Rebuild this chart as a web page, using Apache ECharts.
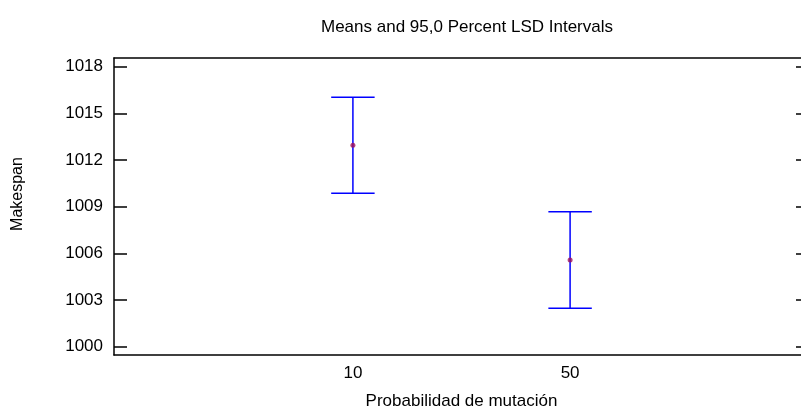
<!DOCTYPE html>
<html>
<head>
<meta charset="utf-8">
<script src="https://cdn.jsdelivr.net/npm/echarts@6/dist/echarts.min.js"></script>
<style>
  html, body { margin: 0; padding: 0; background: #fff; overflow: hidden; }
  /* the plot frame runs a few pixels past the right edge of the window */
  #chart { width: 810px; height: 415px; }
</style>
</head>
<body>
<div id="chart"></div>
<script>
// Factor levels and their means with 95% LSD interval bounds
const categories = ['10', '50'];
const means = [1012.95, 1005.57];
const lower = [1009.87, 1002.47];
const upper = [1016.03, 1008.67];
const yTicks = [1000, 1003, 1006, 1009, 1012, 1015, 1018];

const FONT = 'Liberation Sans, Arial, sans-serif';
const xPos = categories.map((c, i) => i + 1);

const intervalData = categories.map((c, i) => [xPos[i], lower[i], upper[i]]);
const meanData = categories.map((c, i) => [xPos[i], means[i]]);

const chart = echarts.init(document.getElementById('chart'), null, { renderer: 'canvas' });

chart.setOption({
  animation: false,
  backgroundColor: '#ffffff',
  title: {
    text: 'Means and 95,0 Percent LSD Intervals',
    left: 462,
    textAlign: 'center',
    top: 14,
    textStyle: { fontFamily: FONT, fontSize: 17, fontWeight: 'normal', color: '#000' }
  },
  graphic: [{
    type: 'text',
    x: 18,
    y: 194,
    rotation: Math.PI / 2,
    style: {
      text: 'Makespan',
      font: '16px ' + FONT,
      fill: '#000',
      textAlign: 'center',
      textVerticalAlign: 'middle'
    }
  }],
  grid: { left: 114, top: 58, right: 1, bottom: 59.5, containLabel: false },
  xAxis: [{
    type: 'value',
    min: -0.1,
    max: 3.1,
    position: 'bottom',
    name: 'Probabilidad de mutación',
    nameLocation: 'middle',
    nameGap: 38,
    nameTextStyle: { fontFamily: FONT, fontSize: 17, color: '#000' },
    axisLine: { show: true, onZero: false, lineStyle: { color: '#000', width: 1.5 } },
    axisTick: { show: false },
    axisLabel: {
      customValues: xPos,
      margin: 10,
      fontFamily: FONT, fontSize: 17, color: '#000',
      formatter: v => categories[Math.round(v) - 1] || ''
    },
    splitLine: { show: false }
  }, {
    type: 'value',
    min: -0.1,
    max: 3.1,
    position: 'top',
    axisLine: { show: true, onZero: false, lineStyle: { color: '#000', width: 1.5 } },
    axisTick: { show: false },
    axisLabel: { show: false },
    splitLine: { show: false }
  }],
  yAxis: [{
    type: 'value',
    min: 999.47,
    max: 1018.56,
    position: 'left',
    axisLine: { show: true, onZero: false, lineStyle: { color: '#000', width: 1.5 } },
    axisTick: {
      show: true, inside: true, length: 13, customValues: yTicks,
      lineStyle: { color: '#000', width: 1.5 }
    },
    axisLabel: {
      customValues: yTicks,
      margin: 11,
      fontFamily: FONT, fontSize: 17, color: '#000',
      formatter: v => String(Math.round(v))
    },
    splitLine: { show: false }
  }, {
    type: 'value',
    min: 999.47,
    max: 1018.56,
    position: 'right',
    axisLine: { show: true, onZero: false, lineStyle: { color: '#000', width: 1.5 } },
    axisTick: {
      show: true, inside: true, length: 13, customValues: yTicks,
      lineStyle: { color: '#000', width: 1.5 }
    },
    axisLabel: { show: false },
    splitLine: { show: false }
  }],
  series: [{
    type: 'custom',
    xAxisIndex: 0,
    yAxisIndex: 0,
    data: intervalData,
    renderItem: function (params, api) {
      const x = api.value(0);
      const lo = api.coord([x, api.value(1)]);
      const hi = api.coord([x, api.value(2)]);
      const capL = api.coord([x - 0.1, api.value(1)])[0];
      const capR = api.coord([x + 0.1, api.value(1)])[0];
      const style = { stroke: '#0000ff', lineWidth: 1.5, fill: null };
      return {
        type: 'group',
        children: [
          { type: 'line', shape: { x1: lo[0], y1: lo[1], x2: hi[0], y2: hi[1] }, style: style },
          { type: 'line', shape: { x1: capL, y1: hi[1], x2: capR, y2: hi[1] }, style: style },
          { type: 'line', shape: { x1: capL, y1: lo[1], x2: capR, y2: lo[1] }, style: style }
        ]
      };
    }
  }, {
    type: 'scatter',
    xAxisIndex: 0,
    yAxisIndex: 0,
    data: meanData,
    symbol: 'circle',
    symbolSize: 5,
    itemStyle: { color: '#a0105a' },
    z: 5
  }]
});
</script>
</body>
</html>
